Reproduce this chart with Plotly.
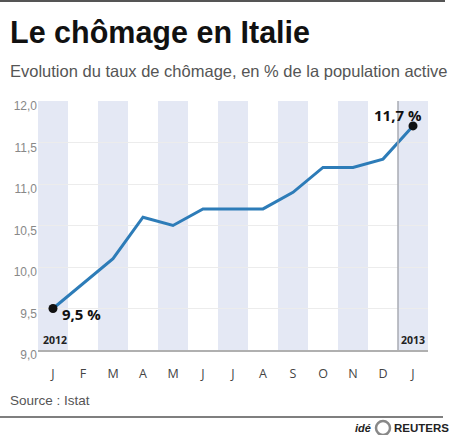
import plotly.graph_objects as go

months = ["J", "F", "M", "A", "M", "J", "J", "A", "S", "O", "N", "D", "J"]
rates = [9.5, 9.8, 10.1, 10.6, 10.5, 10.7, 10.7, 10.7, 10.9, 11.2, 11.2, 11.3, 11.7]
y_ticks = [9.0, 9.5, 10.0, 10.5, 11.0, 11.5, 12.0]
y_tick_labels = ["9,0", "9,5", "10,0", "10,5", "11,0", "11,5", "12,0"]
year_labels = ["2012", "2013"]
first_label = "9,5 %"
last_label = "11,7 %"

W, H = 450, 435
L, R, T, B = 38, 428, 101, 350

def px(x):
    return (x - L) / (R - L)

def py(y):
    return (B - y) / (B - T)

xs = list(range(len(months)))

fig = go.Figure()
fig.add_trace(go.Scatter(x=xs, y=rates, mode="lines",
                         line=dict(color="#2d7cb8", width=3), hoverinfo="skip"))
fig.add_trace(go.Scatter(x=[xs[0], xs[-1]], y=[rates[0], rates[-1]], mode="markers",
                         marker=dict(color="#111", size=9), hoverinfo="skip"))

shapes = []
for i in range(0, len(months), 2):
    shapes.append(dict(type="rect", xref="x", yref="y", x0=i - 0.5, x1=i + 0.5,
                       y0=9.0, y1=12.0, fillcolor="#e4e8f4", line=dict(width=0), layer="below"))
shapes.append(dict(type="line", xref="x", yref="y", x0=len(months) - 1.5, x1=len(months) - 1.5,
                   y0=9.0, y1=12.0, line=dict(color="#a8abb3", width=1.5)))
shapes.append(dict(type="line", xref="paper", yref="paper", x0=px(0), x1=px(445),
                   y0=py(1), y1=py(1), line=dict(color="#555", width=2)))
shapes.append(dict(type="line", xref="paper", yref="paper", x0=px(0), x1=px(443),
                   y0=py(417), y1=py(417), line=dict(color="#555", width=1.5)))
# logo ring
shapes.append(dict(type="circle", xref="paper", yref="paper", x0=px(376), x1=px(390),
                   y0=py(435), y1=py(421), line=dict(color="#888", width=2.5)))

SANS = "Liberation Sans, Arial, sans-serif"
ann = []
ann.append(dict(text="<b>Le chômage en Italie</b>", xref="paper", yref="paper",
                x=px(8), y=py(33), xanchor="left", yanchor="middle", showarrow=False,
                font=dict(family=SANS, size=30.5, color="#111")))
ann.append(dict(text="Evolution du taux de chômage, en % de la population active", xref="paper", yref="paper",
                x=px(8), y=py(71), xanchor="left", yanchor="middle", showarrow=False,
                font=dict(family=SANS, size=16.5, color="#555")))
ann.append(dict(text="<b>" + first_label + "</b>", xref="x", yref="y", x=xs[0], y=rates[0],
                xanchor="left", yanchor="middle", xshift=7, yshift=-5, showarrow=False,
                font=dict(family="Open Sans, sans-serif", size=15, color="#111")))
ann.append(dict(text="<b>" + last_label + "</b>", xref="x", yref="y", x=xs[-1], y=rates[-1],
                xanchor="right", yanchor="middle", xshift=11, yshift=11, showarrow=False,
                font=dict(family="Open Sans, sans-serif", size=15, color="#111")))
ann.append(dict(text="<b>" + year_labels[0] + "</b>", xref="paper", yref="paper",
                x=px(41), y=py(340), xanchor="left", yanchor="middle", showarrow=False,
                font=dict(family="Open Sans, sans-serif", size=10.5, color="#222")))
ann.append(dict(text="<b>" + year_labels[1] + "</b>", xref="paper", yref="paper",
                x=px(427), y=py(340), xanchor="right", yanchor="middle", showarrow=False,
                font=dict(family="Open Sans, sans-serif", size=10.5, color="#222")))
ann.append(dict(text="Source : Istat", xref="paper", yref="paper",
                x=px(8), y=py(401), xanchor="left", yanchor="middle", showarrow=False,
                font=dict(family=SANS, size=13.5, color="#555")))
ann.append(dict(text="<i><b>idé</b></i>", xref="paper", yref="paper",
                x=px(373), y=py(428), xanchor="right", yanchor="middle", showarrow=False,
                font=dict(family=SANS, size=11, color="#222")))
ann.append(dict(text="<b>REUTERS</b>", xref="paper", yref="paper",
                x=px(392), y=py(428), xanchor="left", yanchor="middle", showarrow=False,
                font=dict(family=SANS, size=11.5, color="#222")))

fig.update_layout(
    width=W, height=H, margin=dict(l=L, r=W - R, t=T, b=H - B),
    paper_bgcolor="white", plot_bgcolor="white", showlegend=False,
    shapes=shapes, annotations=ann,
    xaxis=dict(range=[-0.5, len(months) - 0.5], tickmode="array", tickvals=xs, ticktext=months,
               showgrid=False, zeroline=False, showline=True, linecolor="#b0b0b0", linewidth=2,
               ticks="", tickfont=dict(family="Open Sans, sans-serif", size=12.5, color="#444"),
               ticklabelstandoff=11, fixedrange=True),
    yaxis=dict(range=[9.0, 12.0], tickmode="array", tickvals=y_ticks, ticktext=y_tick_labels,
               showgrid=True, gridcolor="#ececec", gridwidth=1, zeroline=False, ticks="",
               tickfont=dict(family=SANS, size=12, color="#888"),
               ticklabelshift=5, fixedrange=True),
)

fig.write_html("out.html", config={"displayModeBar": False},
               post_script="document.body.style.margin='0';")
